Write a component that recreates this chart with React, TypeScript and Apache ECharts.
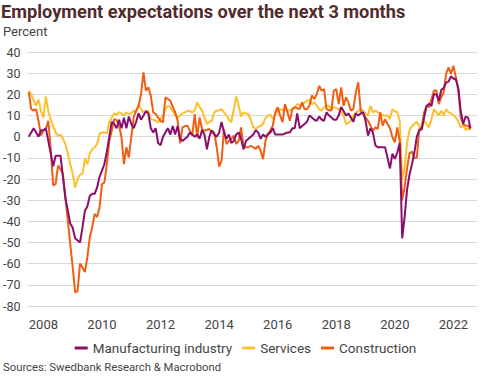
import React, { useEffect, useRef } from "react";
import * as echarts from "echarts";

// Monthly data, Jul 2007 – Aug 2022
const START_YEAR = 2007;
const START_MONTH = 7;

const manufacturing = [
  0, 2, 4, 2, 0, 3,
  3, 4, -2, -8, -14, -9, -9, -9, -19, -29, -35, -41,
  -43, -48, -49, -50, -43, -35, -33, -28, -27, -27, -24, -19,
  -16, -13, -7, 0, 7, 6, 4, 8, 4, 9, 4, 9.5,
  6, 4, 7, 11, 8, 10, 12, 11, 4, 2, 4, -3,
  -4, 0, 2, 4, 1, 5, 1, 5, -1, -2, -1, 0,
  2, 1, 0, 1, -1, 3, 1, -6, 0, 3, 1, 0,
  2, 7, 2, -1, 1, -3, -2, 1, 2, -1, -6, -2,
  -1, 0, 1, 3, 2, -1, 1, 0, 1, 2, 4, 1,
  1, 1, 1, 1.5, 2, 2, 4, 4, 11, 4, 5, 6,
  7, 10, 9, 8, 7.5, 9.5, 8, 7.5, 11.5, 10, 9, 8,
  8, 10, 14, 12, 10, 11, 9, 7, 11, 10, 11, 11.5,
  7.5, 0.5, 4, 2, -4, -5, -5, -5, -5, -10, -15, -8,
  -10.5, -7.5, -3, -48, -38, -25, -18, -13, -7.5, 0, 3, 3.5,
  9, 14.5, 15.5, 14.5, 20, 20, 17, 22, 23, 25.5, 26, 28.5,
  27.5, 27, 23, 12, 6, 9.5, 9, 4,
];

const services = [
  21.7, 20, 17, 14.6, 17.5, 12,
  9, 19, 12, 8, 5, 2, 0.5, 1, -1, -3.5, -8, -13,
  -17.6, -24, -20, -18, -17.6, -10.5, -13, -8, -6, -5, -3.5, 1.3,
  2, 2, 1.6, 6.8, 9, 11, 10.4, 11.5, 11, 10, 11.5, 10.7,
  11, 12.3, 11.5, 15.4, 13, 11.5, 12, 12.3, 8.3, 8, 7.5, 6.8,
  8.3, 10, 13, 14.6, 13.9, 12, 10, 9, 10, 11, 11.5, 12.3,
  12, 11.5, 12.3, 16.2, 14, 12.3, 9, 6, 7, 7.5, 11.5, 12.3,
  12.5, 13, 11.5, 10, 8, 6.8, 13, 19, 14.6, 9.5, 11.5, 11,
  10.7, 8, 4.4, 3.6, 4.7, 5, 6, 8.8, 10, 10.4, 8.3, 10.4,
  12, 13, 12.3, 13.9, 12.3, 12.5, 13, 13.9, 15.4, 15, 14.6, 16.2,
  17, 17.3, 15.4, 16.2, 14.6, 13, 12.3, 13.9, 14.6, 14.6, 13, 13.9,
  13.5, 13, 11.5, 10, 6, 6.5, 7.5, 10, 11.5, 12, 13, 12.3,
  11, 10, 14.6, 11.5, 12.3, 11.5, 11, 10, 10, 10, 8.3, 13,
  12, 11.5, 7.5, -20, -15, -3, 3, 5, 6, 7, 5, 3.6,
  7.5, 6, 4.4, 8.3, 13, 11.5, 10, 12.3, 10, 13, 11.5, 11,
  10, 9, 7, 4.4, 5.2, 3.1, 4, 3.1,
];

const construction = [
  21, 13, 12.3, 13, 7.5, 0.5,
  2.8, 3.6, 7.5, -5.8, -23, -22.4, -13.7, -15.3, -17.6, -28.7, -39.7, -50.7,
  -61.7, -73.5, -73, -60, -61.7, -64, -57, -47.6, -42.8, -36.5, -38, -33.4,
  -22.4, -21.6, -13, -1.9, 2.8, 8.3, 7.9, 5.2, -0.3, -13, -5, -9.8,
  -0.3, 9.4, 12.3, 14.6, 20, 30.4, 21.7, 23.3, 19.4, 11.5, 10.7, 9,
  7.5, 6.8, 18.6, 17.8, 17, 14, 11.5, 7.5, -3.1, 4.4, 5, 5.2,
  2.8, 0.5, 10.7, -0.3, 9.1, 3.6, 2.8, 3.2, 3.6, 2, 2, -5,
  -14.2, -11.3, 3.6, -3.5, -2, -1.1, 0.5, -3.5, -2, 4.4, -5, -5,
  -5, -4.3, -5, -5.8, -4.3, -6.6, -10.6, -1.9, 1.3, 3, 5.2, 11.5,
  13.9, 10, 6.8, 15.4, 11.5, 7.5, 13, 13.9, 13.5, 13, 16.2, 13,
  13, 14.6, 19.4, 17.8, 20, 24, 21.7, 22.5, 13, 12.5, 12.3, 21.7,
  22.5, 15.4, 23.3, 14.6, 18.6, 16, 12.3, 13, 20.8, 25.7, 12.3, 10.7,
  9, 7.5, 5.2, 2.8, 4.4, 3.6, 11.5, 5.2, 8.3, 6, 4, -0.3,
  -2.7, 4.4, -2, -30, -24, -15, -8, -7, -10, -10, 3.6, 4.4,
  11.5, 14.6, 13.9, 17.8, 21.7, 22, 15.4, 18.6, 21, 29.6, 32.8, 29.6,
  33.5, 28, 21.7, 9.1, 6, 5.2, 5.2, 3.6,
];

const yearTicks = [2008, 2010, 2012, 2014, 2016, 2018, 2020, 2022];

const TITLE = "Employment expectations over the next 3 months";
const UNIT = "Percent";
const SOURCE = "Sources: Swedbank Research & Macrobond";

const COLORS = { manufacturing: "#8a0f6c", services: "#fcc02c", construction: "#f05e14" };

const toPoints = (vals: number[]) =>
  vals.map((v, i) => [START_YEAR + (START_MONTH - 1 + i) / 12, v]);

export default function App() {
  const ref = useRef<HTMLDivElement>(null);
  useEffect(() => {
    if (!ref.current) return;
    const chart = echarts.init(ref.current, null, { renderer: "svg" });
    const font = "Roboto, 'Noto Sans', sans-serif";
    chart.setOption({
      animation: false,
      textStyle: { fontFamily: font },
      grid: { left: 25, right: 14, top: 52, bottom: 71 },
      graphic: [
        {
          type: "text",
          left: 1,
          top: 2,
          style: {
            text: TITLE,
            font: "bold 18.2px Roboto, sans-serif",
            fill: "#512b2b",
          },
        },
        {
          type: "text",
          left: 3,
          top: 25,
          style: { text: UNIT, font: "13px Roboto, sans-serif", fill: "#444" },
        },
        {
          type: "text",
          left: 3,
          top: 362,
          style: { text: SOURCE, font: "11.3px Roboto, sans-serif", fill: "#444" },
        },
      ],
      legend: {
        top: 336,
        left: "center",
        icon: "rect",
        itemWidth: 13,
        itemHeight: 3,
        itemGap: 10,
        textStyle: { fontSize: 13.5, color: "#444", fontFamily: font },
        data: ["Manufacturing industry", "Services", "Construction"],
      },
      xAxis: {
        type: "value",
        min: 2007.457,
        max: 2022.805,
        axisLine: { show: false },
        axisTick: { show: false },
        splitLine: { show: false },
        axisLabel: {
          customValues: yearTicks,
          formatter: (v: number) => String(Math.round(v)),
          color: "#444",
          fontSize: 13,
          margin: 12,
        },
      },
      yAxis: {
        type: "value",
        min: -80,
        max: 40,
        interval: 10,
        axisLine: { show: false },
        axisTick: { show: false },
        axisLabel: { color: "#444", fontSize: 12.5, margin: 7 },
        splitLine: { lineStyle: { color: "#d9d9d9", width: 1 } },
      },
      series: [
        {
          name: "Manufacturing industry",
          type: "line",
          data: toPoints(manufacturing),
          showSymbol: false,
          z: 4,
          lineStyle: { color: COLORS.manufacturing, width: 2 },
          itemStyle: { color: COLORS.manufacturing },
        },
        {
          name: "Services",
          type: "line",
          data: toPoints(services),
          showSymbol: false,
          z: 2,
          lineStyle: { color: COLORS.services, width: 2 },
          itemStyle: { color: COLORS.services },
        },
        {
          name: "Construction",
          type: "line",
          data: toPoints(construction),
          showSymbol: false,
          z: 3,
          lineStyle: { color: COLORS.construction, width: 2 },
          itemStyle: { color: COLORS.construction },
        },
      ],
    });
    return () => chart.dispose();
  }, []);
  return (
    <div
      ref={ref}
      style={{ position: "fixed", left: 0, top: 0, width: 491, height: 377, background: "#fff" }}
    />
  );
}
